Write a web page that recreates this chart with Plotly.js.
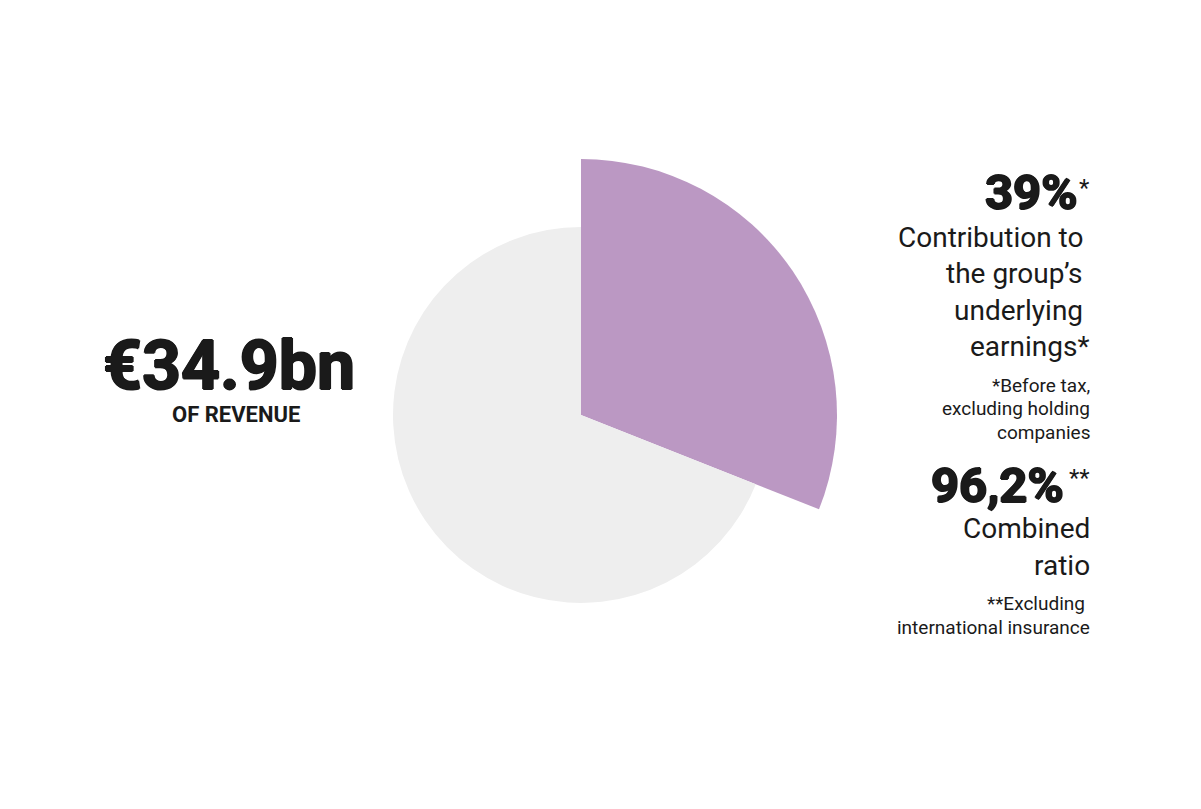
<!DOCTYPE html>
<html>
<head>
<meta charset="utf-8">
<script src="https://cdn.plot.ly/plotly-3.0.1.min.js"></script>
<style>html,body{margin:0;padding:0;background:#fff}#chart{width:1201px;height:809px}</style>
</head>
<body>
<div id="chart"></div>
<script>
// Data
var sliceLabels = ["Segment", "Rest of group"];
var sliceShares = [31, 69];
var sliceColors = ["#BB98C3", "#EEEEEE"];
var headline = "€34.9bn";
var headlineSub = "OF REVENUE";
var stat1 = "39%";
var stat1Mark = "*";
var stat1Text = ["Contribution to\u00a0", "the group’s\u00a0", "underlying\u00a0", "earnings*"];
var stat1Note = ["*Before tax,", "excluding holding", "companies"];
var stat2 = "96,2%";
var stat2Mark = "**";
var stat2Text = ["Combined", "ratio"];
var stat2Note = ["**Excluding\u00a0", "international insurance"];

var W = 1201, H = 809;
function px(x){return x / W;}
function py(y){return 1 - y / H;}

var cx = 581, cy = 415, rBig = 256, rSmall = 188;

var traces = [
  {
    type: "pie", labels: sliceLabels, values: sliceShares, sort: false,
    direction: "clockwise", rotation: 0, textinfo: "none", hoverinfo: "none",
    marker: {colors: [sliceColors[0], "rgba(0,0,0,0)"], line: {width: 0}},
    domain: {x: [px(cx - rBig), px(cx + rBig)], y: [py(cy + rBig), py(cy - rBig)]},
    showlegend: false
  },
  {
    type: "pie", labels: sliceLabels, values: sliceShares, sort: false,
    direction: "clockwise", rotation: 0, textinfo: "none", hoverinfo: "none",
    marker: {colors: ["rgba(0,0,0,0)", sliceColors[1]], line: {width: 0}},
    domain: {x: [px(cx - rSmall), px(cx + rSmall)], y: [py(cy + rSmall), py(cy - rSmall)]},
    showlegend: false
  }
];

var dark = "#1a1a1a";
var bold = "Roboto, 'Liberation Sans', sans-serif";
var reg = "Roboto, sans-serif";
var thick = "1px 0 0 #1a1a1a, -1px 0 0 #1a1a1a, 0 1px 0 #1a1a1a, 0 -1px 0 #1a1a1a";

var annotations = [
  {text: headline, x: px(229), y: py(366.5), xanchor: "center", yanchor: "middle",
   font: {family: bold, size: 68, color: dark, weight: 700, shadow: thick}},
  {text: headlineSub, x: px(236), y: py(414), xanchor: "center", yanchor: "middle",
   font: {family: bold, size: 22, color: dark, weight: 700}},
  {text: stat1, x: px(1079), y: py(193), xanchor: "right", yanchor: "middle",
   font: {family: bold, size: 49, color: dark, weight: 700, shadow: thick}},
  {text: stat1Mark, x: px(1092), y: py(172), xanchor: "right", yanchor: "top",
   font: {family: reg, size: 24, color: dark}},
  {text: stat2, x: px(1066), y: py(485), xanchor: "right", yanchor: "middle",
   font: {family: bold, size: 49, color: dark, weight: 700, shadow: thick}},
  {text: stat2Mark, x: px(1092), y: py(462), xanchor: "right", yanchor: "top",
   font: {family: reg, size: 24, color: dark}}
];

function addLines(lines, yFirstCenter, step, size) {
  lines.forEach(function(t, i){
    annotations.push({text: t, x: px(1092), y: py(yFirstCenter + i * step), xanchor: "right", yanchor: "middle",
      font: {family: reg, size: size, color: dark}});
  });
}
addLines(stat1Text, 237, 36.5, 28);
addLines(stat1Note, 385, 23.5, 19);
addLines(stat2Text, 528, 37, 28);
addLines(stat2Note, 603, 24.5, 19);

annotations.forEach(function(a){ a.xref = "paper"; a.yref = "paper"; a.showarrow = false; });

var layout = {
  width: W, height: H,
  margin: {l: 0, r: 0, t: 0, b: 0},
  paper_bgcolor: "#ffffff", plot_bgcolor: "#ffffff",
  showlegend: false,
  annotations: annotations
};

Plotly.newPlot("chart", traces, layout, {displayModeBar: false, staticPlot: true});
</script>
</body>
</html>
